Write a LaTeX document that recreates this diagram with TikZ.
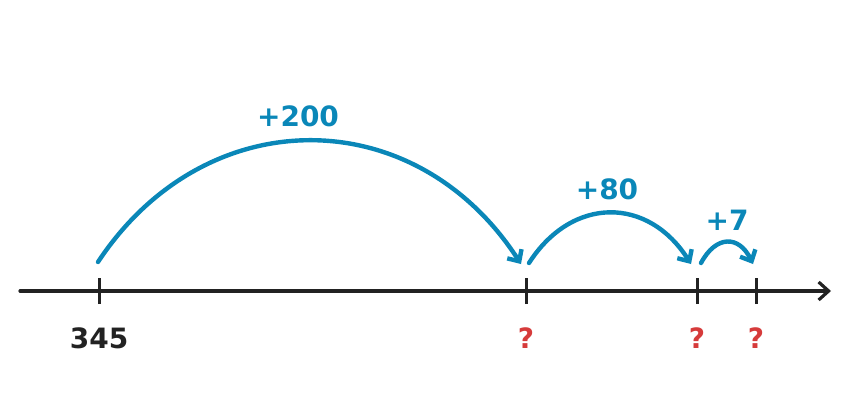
\documentclass[tikz,border=0pt]{standalone}
\usepackage{xcolor}
\usepackage{fontspec}
\setmainfont{DejaVu Sans}
\usetikzlibrary{positioning,arrows.meta}
\definecolor{hopblue}{HTML}{0A87B8}
\definecolor{askred}{HTML}{D63B3B}
\definecolor{axisgray}{HTML}{222222}

\begin{document}
\begin{tikzpicture}[x=1pt, y=-1pt,
    hop/.style={draw=hopblue, line width=4.4pt, line cap=round, -{Straight Barb[length=9pt,width=17pt,line width=4.4pt]}},
    tickmark/.style={draw=axisgray, line width=3pt},
    val/.style={font=\bfseries\fontsize{28}{30}\selectfont, text=axisgray},
    ask/.style={font=\bfseries\fontsize{28}{30}\selectfont, text=askred},
    hoplabel/.style={font=\bfseries\fontsize{28}{30}\selectfont, text=hopblue}]
  \useasboundingbox (0,0) rectangle (864,416);

  % number line
  \coordinate (lineL) at (20,291);
  \coordinate (lineR) at (831,291);
  \draw[draw=axisgray, line width=3.2pt, line cap=round, -{Straight Barb[length=10pt,width=18pt,line width=3.2pt]}] (lineL) -- (lineR);

  % ticks
  \coordinate (t0) at (99,291);
  \coordinate (t1) at (526,291);
  \coordinate (t2) at (697,291);
  \coordinate (t3) at (756,291);
  \foreach \t in {t0,t1,t2,t3}
    \draw[tickmark] ([yshift=-13pt]\t) -- ([yshift=13pt]\t);

  % values under the line
  \node[val] (v0) at (99,338) {345};
  \node[ask] (v1) at (526,338) {?};
  \node[ask] (v2) at (697,338) {?};
  \node[ask] (v3) at (756,338) {?};

  % ends of the jumps
  \coordinate (a0) at (98,262);
  \coordinate (b0) at (521,264);
  \coordinate (a1) at (529,263);
  \coordinate (b1) at (691,264);
  \coordinate (a2) at (701,263);
  \coordinate (b2) at (753,264);

  \draw[hop] (a0) .. controls (205,100) and (415,100) .. (b0);
  \draw[hop] (a1) .. controls (572,196) and (648,196) .. (b1);
  \draw[hop] (a2) .. controls (716,235) and (739,235) .. (b2);

  \node[hoplabel] (l0) at (298,116) {+200};
  \node[hoplabel] (l1) at (607,189) {+80};
  \node[hoplabel] (l2) at (727,220) {+7};
\end{tikzpicture}
\end{document}
